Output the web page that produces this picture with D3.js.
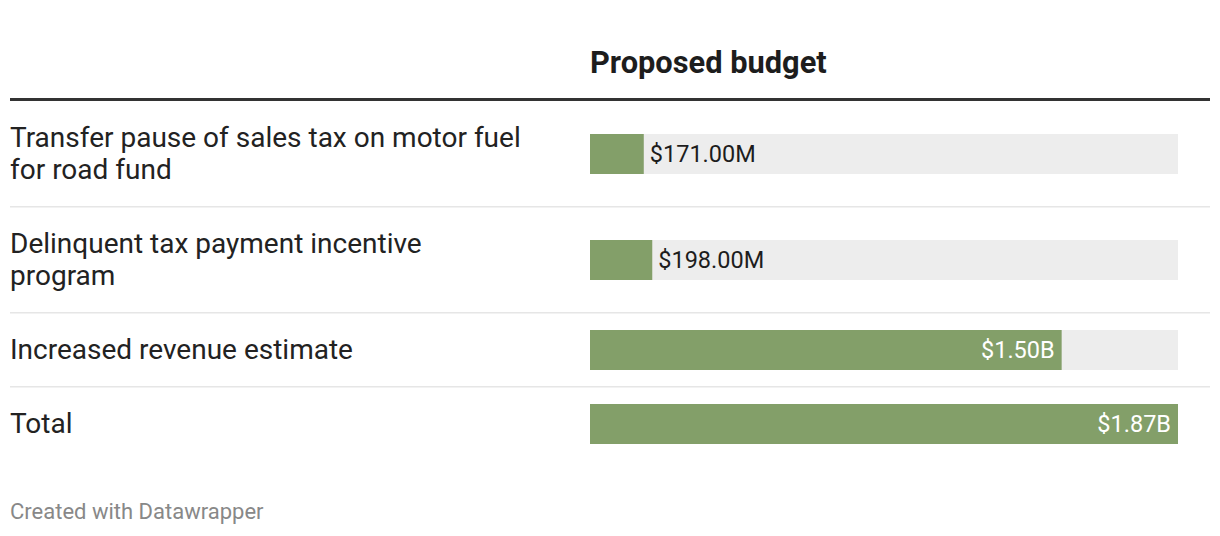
<!DOCTYPE html>
<html>
<head>
<meta charset="utf-8">
<script src="https://cdn.jsdelivr.net/npm/d3@7"></script>
<style>
  body { margin: 0; background: #fff; font-family: Roboto, "Noto Sans", sans-serif; }
</style>
</head>
<body>
<svg class="chart" width="1220" height="536"></svg>
<script>
// data (values in millions of dollars)
var categories = [
  "Transfer pause of sales tax on motor fuel\nfor road fund",
  "Delinquent tax payment incentive\nprogram",
  "Increased revenue estimate",
  "Total"
];
var values = [171, 198, 1500, 1870];
var valueLabels = ["$171.00M", "$198.00M", "$1.50B", "$1.87B"];
var columnTitle = "Proposed budget";

var svg = d3.select(".chart"),
    left = 10, right = 1210,
    barLeft = 590, barRight = 1178,
    barH = 40,
    tableTop = 100;

// x scale for the bars
var x = d3.scaleLinear().domain([0, d3.max(values)]).range([barLeft, barRight]);

// row heights depend on how many lines the label needs
var rows = categories.map(function(c, i) {
  var lines = c.split("\n");
  return { label: lines, value: values[i], text: valueLabels[i], h: 74 + (lines.length - 1) * 32 };
});
var y0 = tableTop + 1;
rows.forEach(function(r) { r.y = y0; y0 += r.h; });

// header
svg.append("text")
    .attr("x", barLeft).attr("y", 73)
    .style("font-size", "30.8px").style("font-weight", 700).style("fill", "#1d1d1d")
    .text(columnTitle);

svg.append("rect")
    .attr("x", left).attr("y", tableTop - 2).attr("width", right - left).attr("height", 3)
    .attr("fill", "#333");

var g = svg.selectAll(".row").data(rows).enter().append("g").attr("class", "row")
    .attr("transform", function(d) { return "translate(0," + d.y + ")"; });

// separators between rows
g.filter(function(d, i) { return i > 0; }).append("rect")
    .attr("x", left).attr("y", -1).attr("width", right - left).attr("height", 1.5)
    .attr("fill", "#e6e6e6");

// labels
g.append("text")
    .attr("x", left)
    .style("font-size", "28px").style("fill", "#222")
    .each(function(d) {
      var t = d3.select(this), n = d.label.length;
      d.label.forEach(function(l, k) {
        t.append("tspan").attr("x", left)
          .attr("y", d.h / 2 + (k - (n - 1) / 2) * 32 + 9)
          .text(l);
      });
    });

// background + bars
g.append("rect")
    .attr("x", barLeft).attr("y", function(d) { return d.h / 2 - barH / 2; })
    .attr("width", barRight - barLeft).attr("height", barH)
    .attr("fill", "#ededed");

g.append("rect")
    .attr("x", barLeft).attr("y", function(d) { return d.h / 2 - barH / 2; })
    .attr("width", function(d) { return x(d.value) - barLeft; }).attr("height", barH)
    .attr("fill", "#839f69");

// value labels: inside (white) for long bars, outside (dark) for short ones
g.append("text")
    .attr("y", function(d) { return d.h / 2 + 8; })
    .style("font-size", "23.5px")
    .each(function(d) {
      var inside = (x(d.value) - barLeft) > 150;
      d3.select(this)
        .attr("x", inside ? x(d.value) - 7 : x(d.value) + 6)
        .attr("text-anchor", inside ? "end" : "start")
        .style("fill", inside ? "#fff" : "#1d1d1d");
    })
    .text(function(d) { return d.text; });

// footer
svg.append("text")
    .attr("x", left).attr("y", 519)
    .style("font-size", "22px").style("fill", "#888")
    .text("Created with Datawrapper");
</script>
</body>
</html>
